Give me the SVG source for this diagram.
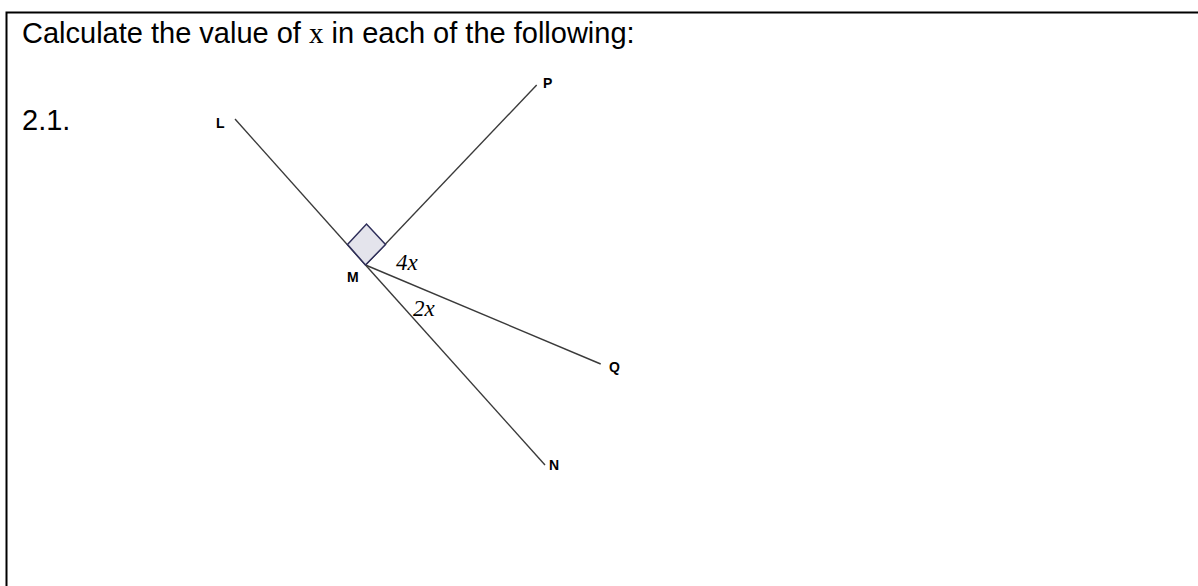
<svg xmlns="http://www.w3.org/2000/svg" width="1198" height="586" viewBox="0 0 1198 586">
<style>
.t{font-family:"Liberation Sans",Arial,sans-serif;font-size:29px;fill:#000}
.lbl{font-family:"Liberation Sans",Arial,sans-serif;font-size:14px;font-weight:bold;fill:#000}
.m{font-family:"Liberation Serif","Times New Roman",serif;font-style:italic;font-size:23px;fill:#000}
.ln{stroke:#3a3a3a;stroke-width:1.4;fill:none}
</style>
<rect width="1198" height="586" fill="#fff"/>
<path d="M6.5 586 V12.5 H1198" fill="none" stroke="#000" stroke-width="2"/>
<text class="t" x="22" y="43">Calculate the value of <tspan font-family="Liberation Serif, serif">x</tspan> in each of the following:</text>
<text class="t" x="22" y="130" font-size="30">2.1.</text>
<g id="connectors">
<line class="ln" x1="235" y1="119" x2="365.5" y2="265"/>
<line class="ln" x1="365.5" y1="265" x2="536.7" y2="85"/>
<line class="ln" x1="365.5" y1="265" x2="600.7" y2="364"/>
<line class="ln" x1="365.5" y1="265" x2="545" y2="465"/>
</g>
<g id="right-angle"><path d="M365.5 265 L347.5 244.5 L366.5 224 L385.5 244.5 Z" fill="#e4e4ec" stroke="#2e2e5a" stroke-width="1.5"/></g>
<g id="L"><text class="lbl" x="216" y="128">L</text></g>
<g id="P"><text class="lbl" x="543" y="88">P</text></g>
<g id="M"><text class="lbl" x="347" y="282">M</text></g>
<g id="Q"><text class="lbl" x="609" y="372">Q</text></g>
<g id="N"><text class="lbl" x="549" y="470">N</text></g>
<text class="m" x="396" y="270">4x</text>
<text class="m" x="413" y="316">2x</text>
</svg>
